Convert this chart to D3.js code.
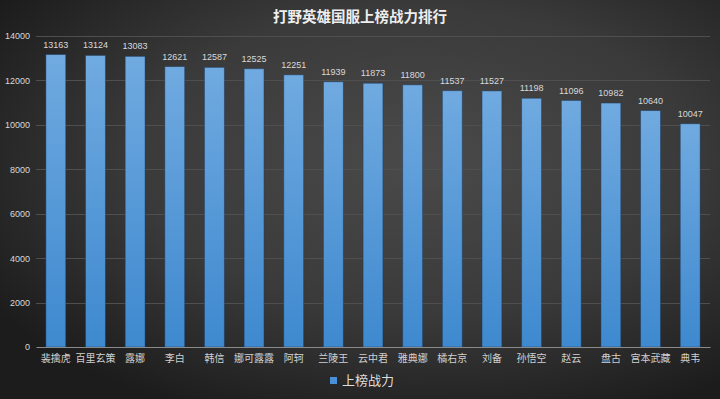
<!DOCTYPE html>
<html>
<head>
<meta charset="utf-8">
<script src="https://cdn.jsdelivr.net/npm/d3@7"></script>
<style>
  html, body { margin: 0; padding: 0; background: #2b2b2b; }
  svg { display: block; font-family: "Noto Sans CJK SC", "Noto Sans", sans-serif; }
</style>
</head>
<body>
<div class="chart"></div>
<script>
// 数据
var title = "打野英雄国服上榜战力排行";
var seriesName = "上榜战力";
var heroes = ["裴擒虎", "百里玄策", "露娜", "李白", "韩信", "娜可露露", "阿轲", "兰陵王", "云中君",
              "雅典娜", "橘右京", "刘备", "孙悟空", "赵云", "盘古", "宫本武藏", "典韦"];
var power = [13163, 13124, 13083, 12621, 12587, 12525, 12251, 11939, 11873,
             11800, 11537, 11527, 11198, 11096, 10982, 10640, 10047];
var yTicks = [0, 2000, 4000, 6000, 8000, 10000, 12000, 14000];

var w = 720, h = 399;
var mLeft = 36, mRight = 710, mTop = 36, mBottom = 347;  // 绘图区

var svg = d3.select("div.chart").append("svg")
    .attr("width", w).attr("height", h);

var defs = svg.append("defs");
var bg = defs.append("radialGradient").attr("id", "bg")
    .attr("cx", "58%").attr("cy", "40%").attr("r", "70%");
bg.append("stop").attr("offset", "0%").attr("stop-color", "#4a4a4a");
bg.append("stop").attr("offset", "55%").attr("stop-color", "#3a3a3a");
bg.append("stop").attr("offset", "100%").attr("stop-color", "#1c1c1c");

var barGrad = defs.append("linearGradient").attr("id", "barGrad")
    .attr("x1", 0).attr("y1", 0).attr("x2", 0).attr("y2", 1);
barGrad.append("stop").attr("offset", "0%").attr("stop-color", "#70aae0");
barGrad.append("stop").attr("offset", "100%").attr("stop-color", "#3e89cf");

svg.append("rect").attr("width", w).attr("height", h).attr("fill", "url(#bg)");

var xScale = d3.scaleBand()
    .domain(heroes)
    .range([mLeft, mRight])
    .paddingInner(0.5).paddingOuter(0.25);

var yScale = d3.scaleLinear()
    .domain([0, 14000])
    .range([mBottom, mTop]);

// 网格线
svg.append("g").selectAll("line")
    .data(yTicks.slice(1))
    .enter().append("line")
    .attr("x1", mLeft).attr("x2", mRight)
    .attr("y1", function(d) { return Math.round(yScale(d)) + 0.5; })
    .attr("y2", function(d) { return Math.round(yScale(d)) + 0.5; })
    .attr("stroke", "#4f4f4f").attr("stroke-width", 1);

// y 轴
var yAxis = d3.axisLeft(yScale).tickValues(yTicks).tickSize(0).tickPadding(6).tickFormat(d3.format("d"));
var gy = svg.append("g").attr("transform", "translate(" + mLeft + ",0)").call(yAxis);
gy.select(".domain").remove();
gy.selectAll("text").attr("fill", "#d9d9d9").attr("font-size", "9px")
    .attr("font-family", "'Liberation Sans', Arial, sans-serif");

// 长条
svg.append("g").selectAll("rect")
    .data(power)
    .enter().append("rect")
    .attr("x", function(d, i) { return xScale(heroes[i]); })
    .attr("y", function(d) { return yScale(d); })
    .attr("width", xScale.bandwidth())
    .attr("height", function(d) { return mBottom - yScale(d); })
    .attr("fill", "url(#barGrad)")
    .attr("stroke", "rgba(30,60,100,0.55)").attr("stroke-width", 0.8);

// 数值
svg.append("g").selectAll("text")
    .data(power)
    .enter().append("text")
    .attr("text-anchor", "middle")
    .attr("x", function(d, i) { return xScale(heroes[i]) + xScale.bandwidth() / 2; })
    .attr("y", function(d) { return yScale(d) - 7; })
    .attr("fill", "#d9d9d9").attr("font-size", "9px")
    .attr("font-family", "'Liberation Sans', Arial, sans-serif")
    .text(function(d) { return d; });

// x 轴
var xAxis = d3.axisBottom(xScale).tickSize(0).tickPadding(8);
var gx = svg.append("g").attr("transform", "translate(0," + mBottom + ")").call(xAxis);
gx.select(".domain").attr("stroke", "#8a8a8a").attr("stroke-width", 1.2);
gx.selectAll("text").attr("fill", "#d0d0d0").attr("font-size", "10px")
    .attr("font-family", "'Noto Sans CJK SC', sans-serif");

// 标题
svg.append("text")
    .attr("x", w / 2).attr("y", 22)
    .attr("text-anchor", "middle")
    .attr("fill", "#eeeeee").attr("font-size", "14.5px").attr("font-weight", "bold")
    .text(title);

// 图例
var lg = svg.append("g").attr("transform", "translate(330,377)");
lg.append("rect").attr("width", 7).attr("height", 7).attr("fill", "#4a90d9");
lg.append("text").attr("x", 12).attr("y", 8)
    .attr("fill", "#dddddd").attr("font-size", "13px")
    .text(seriesName);
</script>
</body>
</html>
